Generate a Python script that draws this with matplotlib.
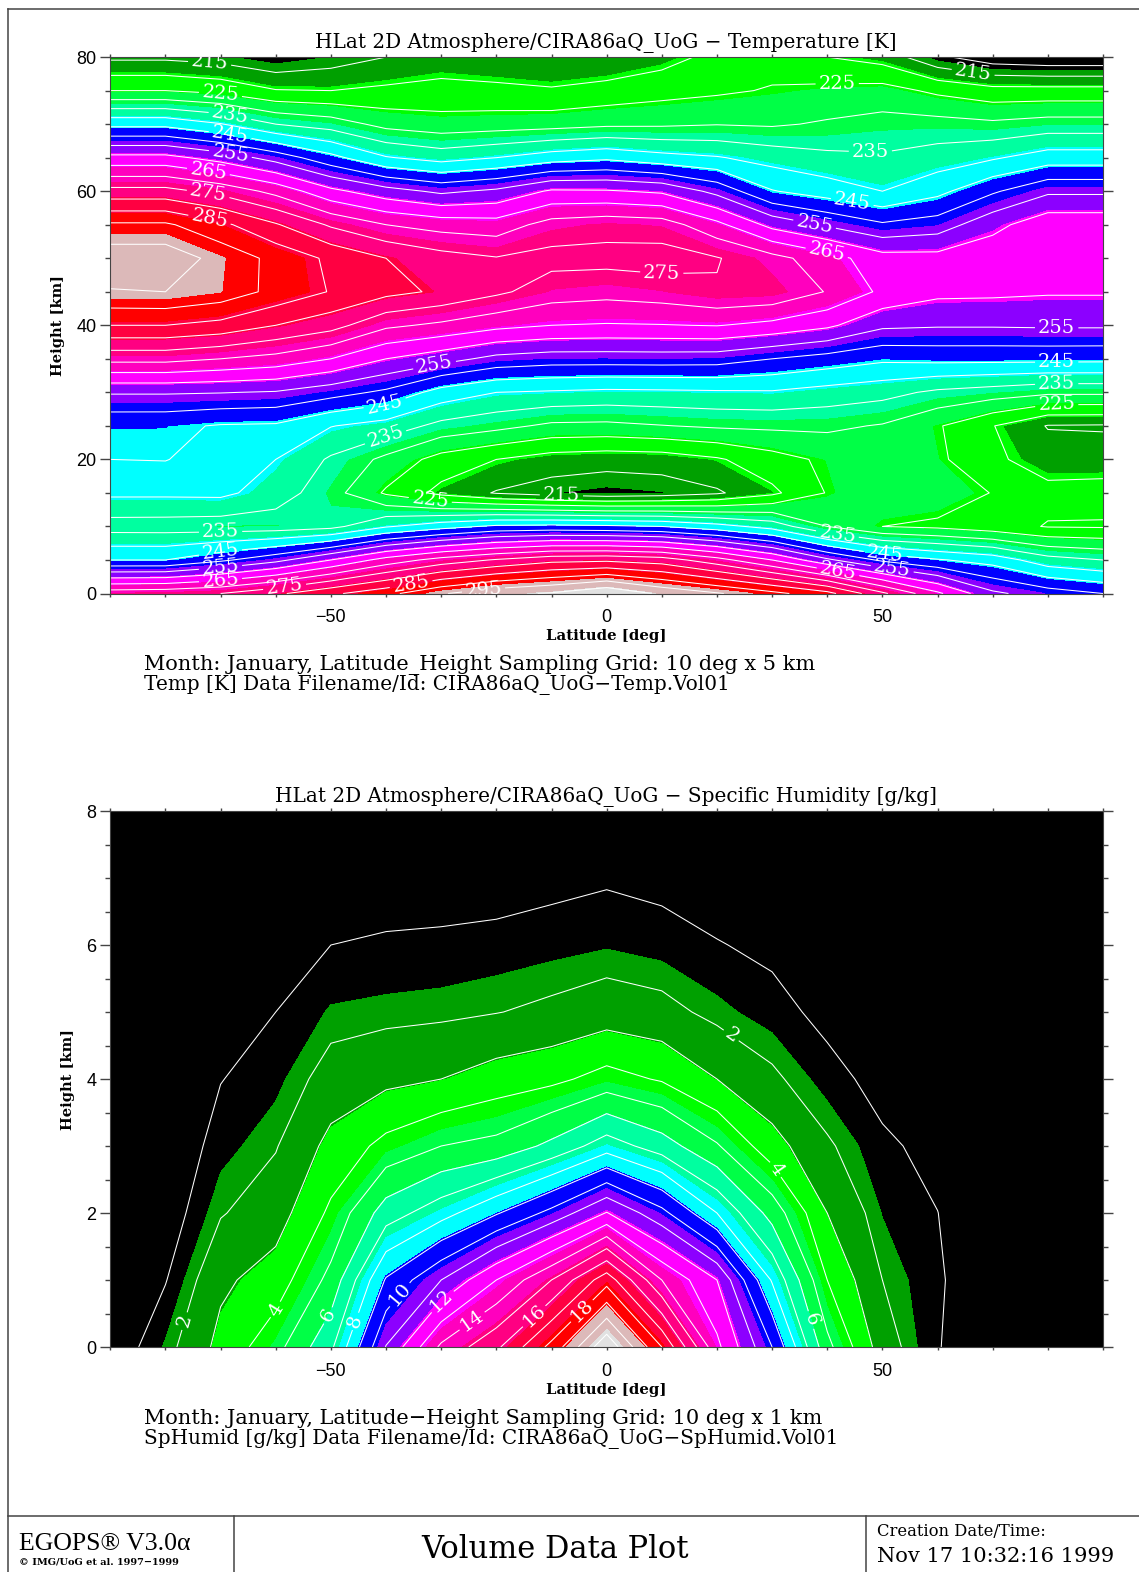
#!/usr/bin/env python3
# -*- coding: utf-8 -*-

import numpy as np
import matplotlib
matplotlib.use('Agg')
from matplotlib import pyplot as plt
from matplotlib.lines import Line2D
from matplotlib.ticker import MultipleLocator

W, H = 1139, 1572

lats = [-90, -80, -70, -60, -50, -40, -30, -20, -10, 0, 10, 20, 30, 40, 50, 60, 70, 80, 90]

# temperature [K], one row per height
temp_heights = [0, 5, 10, 15, 20, 25, 30, 35, 40, 45, 50, 55, 60, 65, 70, 75, 80]
temp_k = [
    [273, 273.5, 275, 279, 284, 288.5, 294.5, 298.5, 300.5, 304.5, 299, 295.5, 291.5, 286.7, 276, 266, 256, 252.5, 250],
    [245, 245, 249, 253.5, 260, 267, 272, 275.5, 278.5, 279, 277.5, 272, 265, 256, 249, 245.5, 243, 237, 235],
    [232.8, 232.7, 232.3, 232.3, 233.5, 239.5, 243, 246, 246.5, 246, 245, 242, 238, 230, 225, 224, 222, 219.7, 219.5],
    [241, 241, 241.2, 237.5, 232, 224.3, 218.5, 214.6, 212.6, 211.5, 212.3, 214.3, 218.9, 225.3, 229, 228, 224.8, 221.5, 222],
    [245, 245.2, 242.5, 240, 234.3, 228.7, 223, 220, 217.7, 217, 217.3, 219.4, 223, 226, 228.5, 226, 221, 217.5, 217.3],
    [246.1, 246.05, 244.6, 244.3, 240.2, 238, 233.5, 231.5, 229, 228.8, 229.8, 230.7, 231, 231, 229.6, 225.5, 220.2, 214.7, 214.5],
    [255.5, 255.5, 255.2, 254.6, 252, 249, 243, 240, 239.4, 238.8, 239, 239.3, 239.5, 238, 236.7, 234, 232.6, 231, 231],
    [271.6, 271.6, 270, 268.3, 265, 260, 257, 253.5, 252.4, 252.4, 252.5, 252.3, 250, 248, 246, 246.5, 246.5, 246.5, 246.4],
    [285, 285, 283.5, 280, 277, 271, 269, 266.5, 265, 264.6, 264.8, 265.2, 263.6, 261, 256, 255.5, 255.5, 255.7, 255.7],
    [294.7, 295, 293, 288.6, 284.7, 281.5, 279.2, 276, 272.5, 271.7, 272.65, 274.6, 274, 269.7, 264, 261.2, 261, 260.5, 260.5],
    [298, 298, 293.3, 288.6, 284, 280, 277, 275.3, 276.6, 276.6, 277, 275.3, 271.7, 267.2, 262, 261.8, 263.5, 264.2, 264.2],
    [290.8, 290.8, 286.3, 280.5, 274.3, 270, 268, 267.2, 272, 273.2, 272.5, 266.4, 258.4, 254.3, 250.7, 252.4, 258.4, 263.3, 263.3],
    [276.7, 276.7, 273.4, 268.5, 261.3, 257, 254, 256, 260.7, 260.5, 259.2, 253.5, 245.3, 242.6, 240, 243.6, 249.3, 254.1, 254.1],
    [261.5, 261.5, 258, 253, 246.6, 240.4, 238, 240, 242.6, 244, 241.8, 240.4, 238, 236.2, 235.6, 237.3, 239.4, 242.4, 242.4],
    [243.6, 243.6, 240.3, 235, 232.7, 228.4, 227, 227.5, 228, 229, 229.2, 229.8, 229.4, 230.6, 231.8, 231.8, 231, 232.2, 232.2],
    [225, 225, 223.6, 220.3, 220, 221, 221.7, 221.3, 220.6, 221.8, 223.2, 224.2, 225.4, 226.3, 226.9, 224, 221.8, 221.8, 221.8],
    [214, 214, 213, 210.5, 212.5, 215, 217, 216, 215, 215.8, 218, 221.5, 223, 220, 218, 211, 207, 206, 206],
]

# specific humidity [g/kg], one row per height
hum_heights = [0, 1, 2, 3, 4, 5, 6, 7, 8]
hum_gkg = [
    [.3, 1.66, 3.3, 4.65, 6.8, 11.05, 14.2, 15.8, 18.3, 21.8, 18, 13.25, 10, 5.3, 2.5, 1.05, .3, .15, .08],
    [.25, .95, 2.8, 3.47, 5.3, 9.1, 11, 13, 15, 17.6, 14, 12, 7.9, 4, 2, 1.1, .4, .2, .1],
    [.15, .45, 1.93, 2.53, 4.2, 6.5, 7.6, 8.9, 10.3, 12.05, 10.3, 8, 5.6, 3, 1.55, 1.01, .3, .15, .08],
    [.1, .25, 1.35, 1.94, 3.3, 4.3, 5, 5.3, 6.25, 7.52, 6.5, 5.1, 3.4, 2.15, 1.15, .75, .2, .1, .05],
    [.07, .15, .97, 1.4, 2.4, 2.75, 3, 3.46, 3.75, 4.37, 3.9, 3, 2.2, 1.3, .7, .3, .1, .07, .03],
    [.05, .1, .7, 1, 1.65, 1.75, 1.82, 1.97, 2.2, 2.5, 2.3, 1.75, 1.3, .75, .45, .2, .07, .05, .02],
    [.03, .08, .5, .65, 1, 1.1, 1.15, 1.25, 1.38, 1.52, 1.35, 1.05, .8, .5, .3, .1, .05, .03, .01],
    [.02, .05, .3, .4, .6, .6, .6, .6, .75, .89, .75, .5, .45, .3, .15, .05, .03, .02, .01],
    [.01, .03, .15, .2, .3, .3, .3, .3, .35, .45, .35, .3, .2, .15, .08, .03, .02, .01, .01],
]

band_colors = ['#000000', '#00a000', '#00ff00', '#00ff46', '#00ffa0', '#00ffff', '#0000ff',
               '#8c00ff', '#ff00ff', '#ff00be', '#ff0082', '#ff0041', '#ff0000', '#dcb9b9', '#e1e1e1']
temp_bands = np.arange(14) * 6.7 + 212.5
hum_bands = np.arange(14) * 1.47 + 1.58

temp_labeled = np.arange(215, 305, 10)
temp_plain = np.arange(210, 305, 10)
hum_labeled = np.arange(2, 22, 2)
hum_plain = np.arange(1, 23, 2)

# label spots, lat / height
temp_label_at = [(-72, 79), (-70, 74.7), (-68.2, 71.7), (-68.2, 68.7), (-68.2, 65.7), (-72.2, 63),
                 (-72.2, 59.9), (-72, 55.8), (10, 47.8), (-31.3, 34.5), (-40.4, 29.4), (-40.5, 24.3),
                 (-32, 13.8), (-8.2, 14.7), (-70, 9), (-70, 6), (-70, 3.7), (-70, 1.9), (-58.4, 1),
                 (-35.5, 1.6), (-22.4, 1.1), (41.8, 76.9), (66.5, 78), (47.8, 65.2), (44.5, 58.2),
                 (37.8, 55.5), (40, 51.2), (81.6, 39.5), (81.6, 34.6), (81.6, 31.5), (81.6, 28.3),
                 (41.8, 8.6), (50.5, 5.9), (51.8, 3.8), (42, 3.5)]
hum_label_at = [(-76.7, .39), (-59.6, .54), (-50.7, .48), (-45.8, .39), (-37.8, .8), (-30.2, .72),
                (-24.5, .4), (-13.6, .5), (-5, .58), (22.5, 4.64), (30.5, 2.64), (36.9, .4)]

SERIF = 'DejaVu Serif'
SANS = 'Liberation Sans'
TICK = '#444444'


def axes_box(top, bottom):
    return [110.3 / W, 1 - bottom / H, (1103 - 110.3) / W, (bottom - top) / H]


def draw_panel(fig, box, heights, values, bands, labeled, plain, label_at, title, ymax, ymajor, yminor, ylabel_x):
    ax = fig.add_axes(box)
    ax.contourf(lats, heights, values, levels=bands, colors=band_colors, extend='both')
    ax.contour(lats, heights, values, levels=plain, colors='white', linewidths=0.75)
    cs = ax.contour(lats, heights, values, levels=labeled, colors='white', linewidths=0.75)
    labs = ax.clabel(cs, manual=label_at, inline=True, inline_spacing=3, fontsize=14, fmt='%d', colors='white')
    for t in labs:
        t.set_family(SERIF)
    ax.set_xlim(-90, 90)
    ax.set_ylim(0, ymax)
    ax.xaxis.set_major_locator(MultipleLocator(50))
    ax.xaxis.set_minor_locator(MultipleLocator(10))
    ax.yaxis.set_major_locator(MultipleLocator(ymajor))
    ax.yaxis.set_minor_locator(MultipleLocator(yminor))
    ax.tick_params(axis='x', which='both', direction='out', length=2.5, width=1, color=TICK, top=True, pad=9,
                   labelsize=13)
    ax.tick_params(axis='y', which='major', direction='out', length=7, width=1, color=TICK, right=True, pad=3,
                   labelsize=13)
    ax.tick_params(axis='y', which='minor', direction='out', length=3.5, width=1, color=TICK, right=True)
    ax.xaxis.set_major_formatter(lambda v, p: ('\u2212%d' % -v) if v < 0 else '%d' % v)
    ax.yaxis.set_major_formatter(lambda v, p: '%d' % v)
    for lab in ax.get_xticklabels() + ax.get_yticklabels():
        lab.set_family(SANS)
    for s in ax.spines.values():
        s.set_color(TICK)
    top_px = (1 - box[1] - box[3]) * H
    bot_px = (1 - box[1]) * H
    fig.text(606 / W, 1 - (top_px - 14) / H, title, family=SERIF, fontsize=14.4, ha='center', va='center')
    fig.text(606 / W, 1 - (bot_px + 43) / H, 'Latitude [deg]', family=SERIF, fontsize=10.7,
             fontweight='bold', ha='center', va='center')
    fig.text(ylabel_x / W, 1 - (top_px + bot_px) / 2 / H, 'Height [km]', family=SERIF, fontsize=10.5,
             fontweight='bold', rotation=90, ha='center', va='center')
    return ax


fig = plt.figure(figsize=(W / 100, H / 100), dpi=100)

draw_panel(fig, axes_box(57.1, 593.5), temp_heights, temp_k, temp_bands, temp_labeled, temp_plain,
           temp_label_at, 'HLat 2D Atmosphere/CIRA86aQ_UoG \u2212 Temperature [K]', 80, 20, 5, 58)
draw_panel(fig, axes_box(811, 1347), hum_heights, hum_gkg, hum_bands, hum_labeled, hum_plain,
           hum_label_at, 'HLat 2D Atmosphere/CIRA86aQ_UoG \u2212 Specific Humidity [g/kg]', 8, 2, 0.5, 68)


def px_text(x, y, s, **kw):
    fig.text(x / W, 1 - y / H, s, va='center', **kw)


def px_line(x0, y0, x1, y1):
    fig.add_artist(Line2D([x0 / W, x1 / W], [1 - y0 / H, 1 - y1 / H], color=TICK, lw=1.1))


px_text(143.5, 665, 'Month: January, Latitude_Height Sampling Grid: 10 deg x 5 km', family=SERIF, fontsize=15)
px_text(143.5, 685, 'Temp [K] Data Filename/Id: CIRA86aQ_UoG\u2212Temp.Vol01', family=SERIF, fontsize=14.4)
px_text(143.5, 1419, 'Month: January, Latitude\u2212Height Sampling Grid: 10 deg x 1 km', family=SERIF, fontsize=15)
px_text(143.5, 1439, 'SpHumid [g/kg] Data Filename/Id: CIRA86aQ_UoG\u2212SpHumid.Vol01', family=SERIF, fontsize=14.4)

# page frame and footer
px_line(7.5, 9, 7.5, H)
px_line(7.5, 9, W, 9)
px_line(7.5, 1516, W, 1516)
px_line(234, 1516, 234, H)
px_line(865.5, 1516, 865.5, H)

px_text(19, 1544, 'EGOPS\u00ae V3.0\u03b1', family='Liberation Serif', fontsize=18.5)
px_text(19, 1562, '\u00a9 IMG/UoG et al. 1997\u22121999', family=SERIF, fontsize=7, fontweight='bold')
px_text(555, 1549, 'Volume Data Plot', family=SERIF, fontsize=22, ha='center')
px_text(877, 1531, 'Creation Date/Time:', family=SERIF, fontsize=11.8)
px_text(877, 1556, 'Nov 17 10:32:16 1999', family=SERIF, fontsize=15.1)

fig.savefig('out.png', dpi=100)
